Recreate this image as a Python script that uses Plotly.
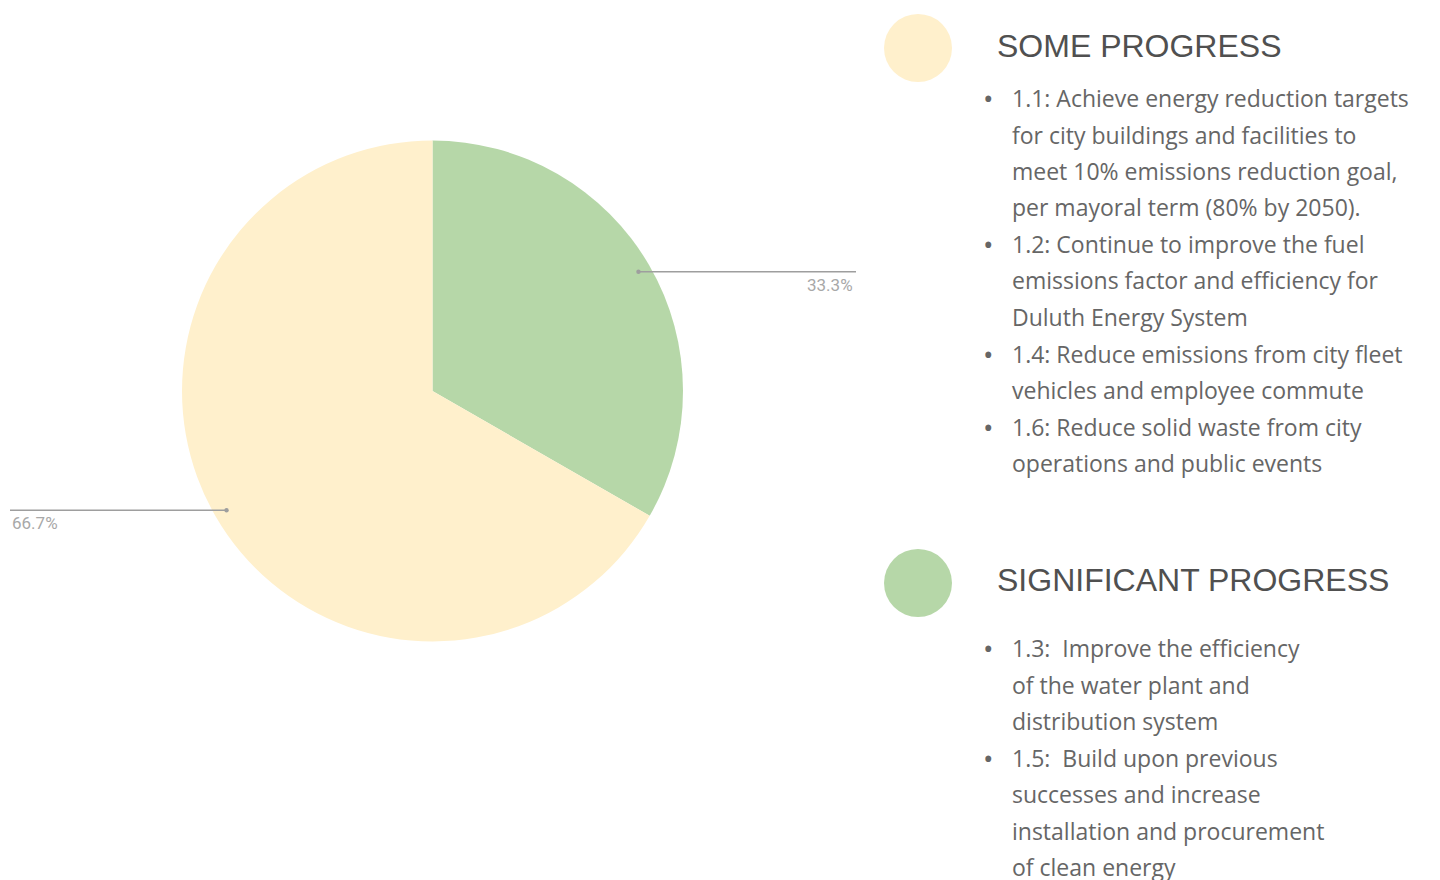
import math
import plotly.graph_objects as go

W, H = 1440, 880
OFF = 8  # page body margin offset

# ---- data ----
categories = ["Significant Progress", "Some Progress"]
values = [33.3, 66.7]
colors = ["#b6d7a8", "#fff0cc"]

some_title = "SOME PROGRESS"
some_lines = [
    ("•", "1.1: Achieve energy reduction targets"),
    ("", "for city buildings and facilities to"),
    ("", "meet 10% emissions reduction goal,"),
    ("", "per mayoral term (80% by 2050)."),
    ("•", "1.2: Continue to improve the fuel"),
    ("", "emissions factor and efficiency for"),
    ("", "Duluth Energy System"),
    ("•", "1.4: Reduce emissions from city fleet"),
    ("", "vehicles and employee commute"),
    ("•", "1.6: Reduce solid waste from city"),
    ("", "operations and public events"),
]
sig_title = "SIGNIFICANT PROGRESS"
sig_lines = [
    ("•", "1.3:  Improve the efficiency"),
    ("", "of the water plant and"),
    ("", "distribution system"),
    ("•", "1.5:  Build upon previous"),
    ("", "successes and increase"),
    ("", "installation and procurement"),
    ("", "of clean energy"),
]

def px(x):
    return (x - OFF) / W

def py(y):
    return 1 - (y - OFF) / H

# pie geometry (screen pixels)
cx, cy, r = 432.5, 391, 250.5

fig = go.Figure()
fig.add_trace(go.Pie(
    labels=categories, values=values, sort=False, direction="clockwise",
    rotation=0, marker=dict(colors=colors, line=dict(width=0)),
    textinfo="none", showlegend=False,
    domain=dict(x=[px(cx - r), px(cx + r)], y=[py(cy + r), py(cy - r)]),
))

shapes = []
annotations = []

# leader lines computed from slice mid-angles
total = sum(values)
cum = 0
for v in values:
    mid = (cum + v / 2) / total * 2 * math.pi
    cum += v
    k = 0.95
    x0 = cx + r * k * math.sin(mid)
    y0 = cy - r * k * math.cos(mid)
    right = math.sin(mid) >= 0
    x1 = 856 if right else 10
    shapes.append(dict(type="line", xref="paper", yref="paper",
                       x0=px(x0), y0=py(y0), x1=px(x1), y1=py(y0),
                       line=dict(color="#9e9e9e", width=1.5)))
    shapes.append(dict(type="circle", xref="paper", yref="paper",
                       x0=px(x0 - 2.2), x1=px(x0 + 2.2), y0=py(y0 + 2.2), y1=py(y0 - 2.2),
                       fillcolor="#9e9e9e", line=dict(width=0)))
    annotations.append(dict(
        xref="paper", yref="paper", x=px(x1 - 1 if right else x1), y=py(y0 + 13),
        text=f"{v / total * 100:.1f}%", showarrow=False,
        xanchor="right" if right else "left", yanchor="middle",
        font=dict(family="Roboto, Arial", size=17, color="#a8a8a8")))

# legend-like blocks
def block(color, title, lines, circ_y, title_y, first_line_y):
    shapes.append(dict(type="circle", xref="paper", yref="paper",
                       x0=px(884), x1=px(952), y0=py(circ_y + 34), y1=py(circ_y - 34),
                       fillcolor=color, line=dict(width=0)))
    annotations.append(dict(xref="paper", yref="paper", x=px(995), y=py(title_y),
                            text=title, showarrow=False, xanchor="left", yanchor="middle",
                            font=dict(family="Liberation Sans, Arial", size=32, color="#505050")))
    for i, (b, t) in enumerate(lines):
        yy = first_line_y + i * 36.5
        if b:
            annotations.append(dict(xref="paper", yref="paper", x=px(988), y=py(yy),
                                    text=b, showarrow=False, xanchor="center", yanchor="middle",
                                    font=dict(family="Open Sans", size=28, color="#666666")))
        annotations.append(dict(xref="paper", yref="paper", x=px(1010), y=py(yy),
                                text=t, showarrow=False, xanchor="left", yanchor="middle",
                                font=dict(family="Open Sans", size=23, color="#666666")))

block(colors[1], some_title, some_lines, 48, 46, 98)
block(colors[0], sig_title, sig_lines, 583, 580, 648)

fig.update_layout(
    width=W, height=H, margin=dict(l=0, r=0, t=0, b=0),
    paper_bgcolor="white", plot_bgcolor="white",
    shapes=shapes, annotations=annotations,
)
fig.write_html("out.html")
